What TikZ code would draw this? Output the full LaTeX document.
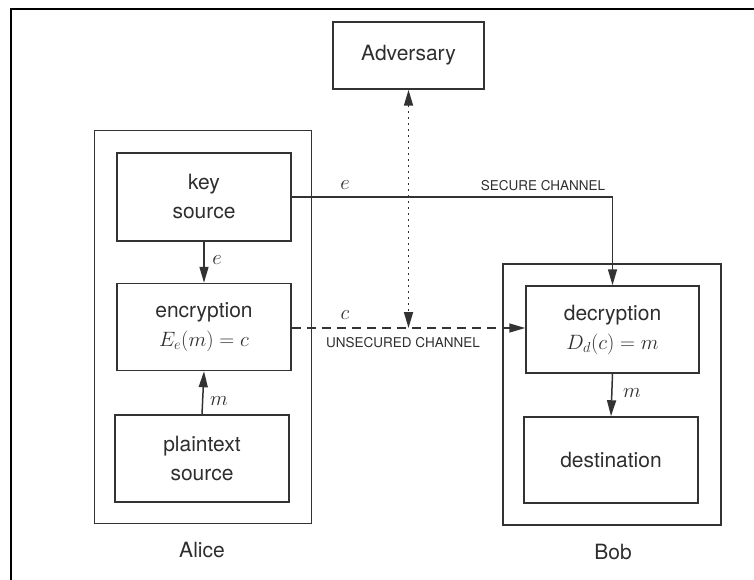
\documentclass[tikz,border=0pt]{standalone}
\usepackage{fontspec}
\setmainfont{TeX Gyre Heros}
\usetikzlibrary{arrows.meta}
\begin{document}
\begin{tikzpicture}[x=1pt,y=-1pt,
  ink/.style={draw=black!80},
  box/.style={ink, line width=1.5pt, rectangle, inner sep=0pt, align=center,
    font=\fontsize{21}{27}\selectfont, text=black!82},
  party/.style={ink, line width=1.5pt, rectangle, inner sep=0pt},
  conn/.style={ink, line width=1.5pt},
  tip/.style={-{Triangle[length=16pt,width=9pt]}},
  lbl/.style={text=black!82, font=\fontsize{21}{24}\selectfont, inner sep=0pt},
  chan/.style={text=black!82, font=\fontsize{13.5}{15}\selectfont, inner sep=0pt}]
\useasboundingbox (0,0) rectangle (754,580);
% frame
\draw[line width=2.4pt, black] (11,580) -- (11,9) -- (754,9);

% parties
\node[party, minimum width=217pt, minimum height=393pt] (alice) at (203,327) {};
\node[party, minimum width=218pt, minimum height=261pt] (bob) at (612,394.5) {};

% blocks
\node[box, minimum width=151pt, minimum height=67pt] (adv) at (408.5,55.5) {Adversary};
\node[box, minimum width=174pt, minimum height=88pt] (key) at (204,197) {key\\[2pt]source};
\node[box, minimum width=174pt, minimum height=87pt] (enc) at (204,327) {encryption\\[2pt]$E_e(m)=c$};
\node[box, minimum width=174pt, minimum height=87pt] (plain) at (202,458.5) {plaintext\\[2pt]source};
\node[box, minimum width=173pt, minimum height=87pt] (dec) at (612.5,329.5) {decryption\\[2pt]$D_d(c)=m$};
\node[box, minimum width=174pt, minimum height=86pt] (dest) at (611,460) {destination};

\coordinate (tap) at (adv.south |- 0,328);

% connectors
\draw[conn, tip] (key.south) -- (enc.north);
\draw[conn, tip] (plain.north) -- (enc.south);
\draw[conn, tip] (dec.south) -- (dest.north);
\draw[conn, tip] (key.east) -| (dec.north);
\draw[conn, tip, dash pattern=on 9pt off 6pt] (enc.east |- tap) -- (dec.west |- tap);
\draw[conn, line width=1.7pt, dash pattern=on 1.5pt off 4.5pt,
  {Triangle[length=16pt,width=9pt]}-{Triangle[length=16pt,width=9pt]}] (adv.south) -- (tap);

% labels
\node[lbl] (le1) at (345,185) {$e$};
\node[chan] (sc) at (543,186) {SECURE CHANNEL};
\node[lbl] (le2) at (217,260) {$e$};
\node[lbl] (lc) at (345,315) {$c$};
\node[chan] (uc) at (403,343) {UNSECURED CHANNEL};
\node[lbl] (lm1) at (219,401) {$m$};
\node[lbl] (lm2) at (632,393) {$m$};
\node[lbl] (la) at (202,550) {Alice};
\node[lbl] (lb) at (613,552) {Bob};
\end{tikzpicture}
\end{document}
